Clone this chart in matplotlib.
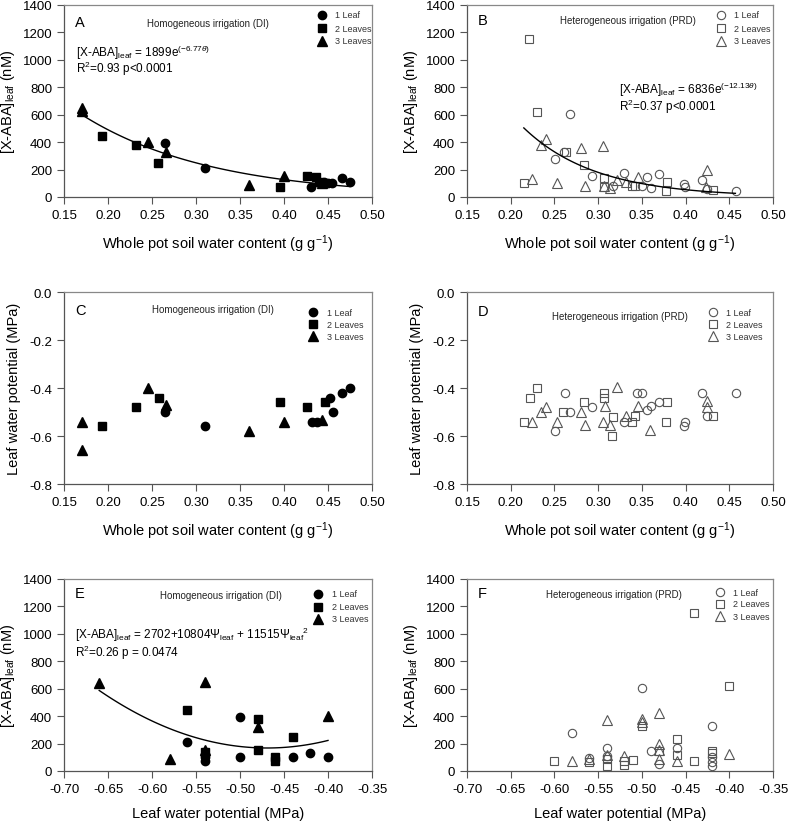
import numpy as np
import matplotlib
matplotlib.use("Agg")
import matplotlib.pyplot as plt

plt.rcParams['font.family'] = ['Liberation Sans', 'DejaVu Sans']
plt.rcParams['mathtext.fontset'] = 'custom'
plt.rcParams['mathtext.rm'] = 'Liberation Sans'
plt.rcParams['mathtext.it'] = 'Liberation Sans:italic'
plt.rcParams['axes.unicode_minus'] = False

# ---- DI (homogeneous) : soil water content, X-ABA, leaf water potential ----
di1_swc = [0.265, 0.31, 0.431, 0.445, 0.45, 0.455, 0.466, 0.475]
di1_aba = [395, 215, 70, 110, 105, 100, 135, 110]
di2_swc = [0.193, 0.232, 0.257, 0.395, 0.426, 0.436, 0.44]
di2_aba = [445, 380, 250, 70, 150, 148, 110]
di3_swc = [0.17, 0.17, 0.245, 0.266, 0.36, 0.40, 0.443]
di3_aba = [650, 630, 400, 325, 90, 150, 100]

c1_swc = [0.265, 0.31, 0.432, 0.438, 0.452, 0.456, 0.466, 0.475]
c1_lwp = [-0.50, -0.56, -0.54, -0.54, -0.44, -0.50, -0.42, -0.40]
c2_swc = [0.193, 0.232, 0.258, 0.3955, 0.426, 0.447]
c2_lwp = [-0.56, -0.48, -0.44, -0.46, -0.48, -0.46]
c3_swc = [0.17, 0.17, 0.245, 0.266, 0.36, 0.40, 0.443]
c3_lwp = [-0.54, -0.66, -0.40, -0.47, -0.58, -0.54, -0.535]

e1_lwp = [-0.56, -0.50, -0.54, -0.54, -0.50, -0.44, -0.42, -0.40]
e1_aba = [215, 395, 100, 70, 100, 105, 130, 105]
e2_lwp = [-0.56, -0.48, -0.44, -0.54, -0.48, -0.46, -0.46]
e2_aba = [445, 380, 250, 135, 150, 100, 75]
e3_lwp = [-0.66, -0.54, -0.48, -0.40, -0.58, -0.54]
e3_aba = [640, 650, 320, 400, 90, 150]

# ---- PRD (heterogeneous) ----
b1_swc = [0.251, 0.261, 0.268, 0.293, 0.317, 0.33, 0.3506, 0.3563, 0.3605,
          0.3696, 0.3986, 0.399, 0.4184, 0.424, 0.4577]
b1_aba = [275, 325, 605, 155, 80, 175, 83, 143, 66, 168, 95, 70, 124, 60, 46]
b2_swc = [0.215, 0.221, 0.230, 0.263, 0.284, 0.307, 0.307, 0.3387, 0.3422,
          0.3784, 0.3776, 0.4317]
b2_aba = [100, 1150, 620, 330, 236, 140, 75, 83, 83, 112, 46, 53]
b3_swc = [0.224, 0.235, 0.24, 0.253, 0.28, 0.285, 0.305, 0.307, 0.314,
          0.322, 0.3319, 0.3456, 0.4241, 0.4237]
b3_aba = [130, 380, 420, 105, 355, 80, 370, 80, 65, 125, 112, 143, 199, 70]

d1_swc = [0.251, 0.262, 0.268, 0.293, 0.33, 0.344, 0.3498, 0.356, 0.3605,
          0.3696, 0.399, 0.3986, 0.4184, 0.424, 0.4577]
d1_lwp = [-0.58, -0.42, -0.50, -0.48, -0.54, -0.42, -0.42, -0.49, -0.476,
          -0.457, -0.54, -0.56, -0.42, -0.518, -0.42]
d2_swc = [0.215, 0.222, 0.230, 0.26, 0.284, 0.307, 0.307, 0.317, 0.316,
          0.3387, 0.3422, 0.3784, 0.3776, 0.4317]
d2_lwp = [-0.54, -0.44, -0.40, -0.50, -0.46, -0.42, -0.44, -0.52, -0.60,
          -0.54, -0.515, -0.457, -0.54, -0.518]
d3_swc = [0.224, 0.235, 0.24, 0.253, 0.28, 0.285, 0.305, 0.308, 0.314,
          0.322, 0.332, 0.3456, 0.359, 0.424, 0.424]
d3_lwp = [-0.54, -0.50, -0.48, -0.54, -0.50, -0.555, -0.54, -0.475, -0.555,
          -0.395, -0.515, -0.476, -0.575, -0.456, -0.478]

f1_lwp = [-0.50, -0.42, -0.58, -0.56, -0.54, -0.54, -0.49, -0.48, -0.46,
          -0.42, -0.42, -0.42]
f1_aba = [605, 330, 275, 95, 170, 107, 145, 51, 168, 100, 63, 39]
f2_lwp = [-0.44, -0.40, -0.50, -0.60, -0.56, -0.54, -0.54, -0.52, -0.52,
          -0.51, -0.48, -0.46, -0.46, -0.44, -0.42, -0.42]
f2_aba = [1150, 620, 325, 75, 63, 87, 39, 75, 44, 80, 148, 235, 117, 75, 143, 128]
f3_lwp = [-0.48, -0.54, -0.50, -0.50, -0.58, -0.56, -0.54, -0.52, -0.48,
          -0.48, -0.48, -0.46, -0.40]
f3_aba = [420, 370, 380, 355, 75, 85, 117, 110, 200, 155, 87, 75, 125]

# fitted models from the paper
fitA = (1899, -6.77, 0.17, 0.475)
fitB = (6836, -12.13, 0.215, 0.457)
fitE = (2702, 10804, 11515, -0.66, -0.40)

labels = ['1 Leaf', '2 Leaves', '3 Leaves']
markers = ['o', 's', '^']
ms = [6, 5.5, 6.5]

fig = plt.figure(figsize=(7.89, 8.29), dpi=100)
W, H = 789, 829
cols = [(64, 308), (467, 306)]
rows = [(6, 198), (293, 485), (580, 772)]
axes = {}
for r, (top, bot) in enumerate(rows):
    for c, (left, w) in enumerate(cols):
        axes[(r, c)] = fig.add_axes([left / W, (H - bot) / H, w / W, (bot - top) / H])


def style(ax):
    for s in ['top', 'right']:
        ax.spines[s].set_color('#888888')
        ax.spines[s].set_linewidth(0.9)
    for s in ['left', 'bottom']:
        ax.spines[s].set_color('#555555')
        ax.spines[s].set_linewidth(0.9)
    ax.tick_params(direction='out', length=5, width=0.8, color='#555555',
                   labelsize=9.5, top=False, right=False)


def scatter(ax, groups, filled):
    for (x, y), m, s in zip(groups, markers, ms):
        if filled:
            ax.plot(x, y, m, ms=s, color='black', ls='none', clip_on=False)
        else:
            ax.plot(x, y, m, ms=s, mfc='none', mec='#555555', mew=0.8,
                    ls='none', clip_on=False)


def legend(ax, xm, xt, ys, filled):
    for m, s, lab, yy in zip(markers, ms, labels, ys):
        if filled:
            ax.plot([xm], [yy], m, ms=s, color='black', transform=ax.transAxes, clip_on=False)
        else:
            ax.plot([xm], [yy], m, ms=s, mfc='none', mec='#555555', mew=0.8,
                    transform=ax.transAxes, clip_on=False)
        ax.text(xt, yy, lab, transform=ax.transAxes, fontsize=6.5, va='center',
                color='#333333')


swc_ticks = np.arange(0.15, 0.501, 0.05)
lwp_ticks = np.arange(-0.70, -0.349, 0.05)
lwp_yticks = [-0.8, -0.6, -0.4, -0.2, 0.0]

# A
ax = axes[(0, 0)]
scatter(ax, [(di1_swc, di1_aba), (di2_swc, di2_aba), (di3_swc, di3_aba)], True)
xx = np.linspace(fitA[2], fitA[3], 100)
ax.plot(xx, fitA[0] * np.exp(fitA[1] * xx), color='black', lw=1)
# B
ax = axes[(0, 1)]
scatter(ax, [(b1_swc, b1_aba), (b2_swc, b2_aba), (b3_swc, b3_aba)], False)
xx = np.linspace(fitB[2], fitB[3], 100)
ax.plot(xx, fitB[0] * np.exp(fitB[1] * xx), color='black', lw=1)
# C
ax = axes[(1, 0)]
scatter(ax, [(c1_swc, c1_lwp), (c2_swc, c2_lwp), (c3_swc, c3_lwp)], True)
# D
ax = axes[(1, 1)]
scatter(ax, [(d1_swc, d1_lwp), (d2_swc, d2_lwp), (d3_swc, d3_lwp)], False)
# E
ax = axes[(2, 0)]
scatter(ax, [(e1_lwp, e1_aba), (e2_lwp, e2_aba), (e3_lwp, e3_aba)], True)
xx = np.linspace(fitE[3], fitE[4], 100)
ax.plot(xx, fitE[0] + fitE[1] * xx + fitE[2] * xx ** 2, color='black', lw=1)
# F
ax = axes[(2, 1)]
scatter(ax, [(f1_lwp, f1_aba), (f2_lwp, f2_aba), (f3_lwp, f3_aba)], False)

swc_label = 'Whole pot soil water content (g g$^{-1}$)'
aba_label = '[X-ABA]$_{\\mathrm{leaf}}$ (nM)'
for r in range(3):
    for c in range(2):
        ax = axes[(r, c)]
        style(ax)
        if r < 2:
            ax.set_xlim(0.15, 0.50)
            ax.set_xticks(swc_ticks)
            ax.set_xticklabels(['%.2f' % t for t in swc_ticks])
            ax.set_xlabel(swc_label, fontsize=10.5, labelpad=8)
        else:
            ax.set_xlim(-0.70, -0.35)
            ax.set_xticks(lwp_ticks)
            ax.set_xticklabels(['%.2f' % t for t in lwp_ticks])
            ax.set_xlabel('Leaf water potential (MPa)', fontsize=10.5, labelpad=8)
        if r == 1:
            ax.set_ylim(-0.8, 0.0)
            ax.set_yticks(lwp_yticks)
            ax.set_yticklabels(['%.1f' % t for t in lwp_yticks])
            ax.set_ylabel('Leaf water potential (MPa)', fontsize=10.5, labelpad=6)
        else:
            ax.set_ylim(0, 1400)
            ax.set_yticks(np.arange(0, 1401, 200))
            ax.set_ylabel(aba_label, fontsize=10.5, labelpad=4)

titles = {(0, 0): ('A', 'Homogeneous irrigation (DI)', 0.467, 0.905),
          (0, 1): ('B', 'Heterogeneous irrigation (PRD)', 0.527, 0.923),
          (1, 0): ('C', 'Homogeneous irrigation (DI)', 0.485, 0.911),
          (1, 1): ('D', 'Heterogeneous irrigation (PRD)', 0.50, 0.877),
          (2, 0): ('E', 'Homogeneous irrigation (DI)', 0.51, 0.917),
          (2, 1): ('F', 'Heterogeneous irrigation (PRD)', 0.48, 0.922)}
letter_y = {(0, 0): 0.91, (0, 1): 0.923, (1, 0): 0.908, (1, 1): 0.903,
            (2, 0): 0.927, (2, 1): 0.927}
for key, (let, tit, tx, ty) in titles.items():
    ax = axes[key]
    ax.text(0.036, letter_y[key], let, transform=ax.transAxes, fontsize=10.5,
            va='center', ha='left')
    ax.text(tx, ty, tit, transform=ax.transAxes, fontsize=7, va='center',
            ha='center', color='#222222')

legend(axes[(0, 0)], 0.837, 0.88, [0.948, 0.880, 0.814], True)
legend(axes[(0, 1)], 0.83, 0.874, [0.948, 0.880, 0.814], False)
legend(axes[(1, 0)], 0.81, 0.853, [0.894, 0.833, 0.769], True)
legend(axes[(1, 1)], 0.803, 0.846, [0.894, 0.833, 0.769], False)
legend(axes[(2, 0)], 0.824, 0.869, [0.922, 0.856, 0.792], True)
legend(axes[(2, 1)], 0.827, 0.87, [0.93, 0.87, 0.806], False)

ax = axes[(0, 0)]
ax.text(0.039, 0.758, '[X-ABA]$_{\\mathrm{leaf}}$ = 1899e$^{(-6.77\\theta)}$',
        transform=ax.transAxes, fontsize=8.5, va='center')
ax.text(0.039, 0.672, 'R$^2$=0.93 p<0.0001', transform=ax.transAxes,
        fontsize=8.5, va='center')
ax = axes[(0, 1)]
ax.text(0.497, 0.561, '[X-ABA]$_{\\mathrm{leaf}}$ = 6836e$^{(-12.13\\theta)}$',
        transform=ax.transAxes, fontsize=8.5, va='center')
ax.text(0.497, 0.472, 'R$^2$=0.37 p<0.0001', transform=ax.transAxes,
        fontsize=8.5, va='center')
ax = axes[(2, 0)]
ax.text(0.036, 0.714,
        '[X-ABA]$_{\\mathrm{leaf}}$ = 2702+10804\u03a8$_{\\mathrm{leaf}}$ + 11515\u03a8$_{\\mathrm{leaf}}$$^{2}$',
        transform=ax.transAxes, fontsize=8.5, va='center')
ax.text(0.036, 0.620, 'R$^2$=0.26 p = 0.0474', transform=ax.transAxes,
        fontsize=8.5, va='center')

fig.savefig('out.png', dpi=100)
